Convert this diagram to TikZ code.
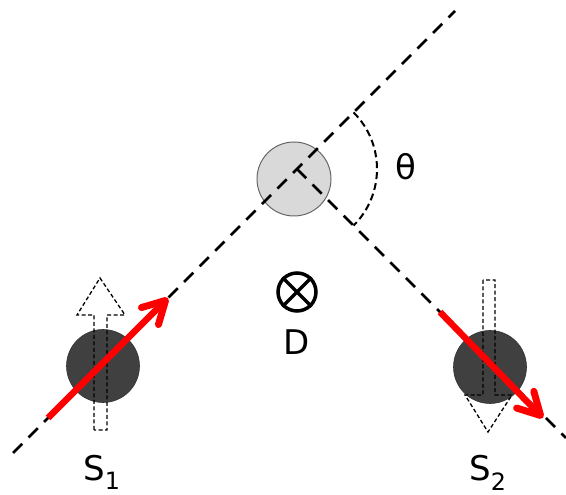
\documentclass[tikz,border=0pt]{standalone}
\usepackage{fontspec}
\setmainfont{DejaVu Sans}
\usetikzlibrary{arrows.meta,calc}
\begin{document}
\begin{tikzpicture}[x=1pt,y=1pt,
  axisline/.style={line width=2.5pt,dash pattern=on 13pt off 9pt},
  anglearc/.style={line width=2pt,dash pattern=on 7pt off 4pt},
  spinball/.style={circle,draw=black!80,line width=0.6pt,fill=black!75,minimum size=73pt,inner sep=0pt},
  centerball/.style={circle,draw=black!60,line width=1pt,fill=black!15,minimum size=74pt,inner sep=0pt},
  hollowarrow/.style={line width=1.3pt,dash pattern=on 4pt off 2.5pt},
  redarrow/.style={red,line width=6.5pt,-{Straight Barb[length=22pt,width=24pt,line width=7pt,round]}},
  lab/.style={font=\fontsize{34}{40}\selectfont,inner sep=0pt}
]
\useasboundingbox (0,0) rectangle (566,495);
% coordinates
\coordinate (V) at (297,326);
\coordinate (L1a) at (13,42);
\coordinate (L1b) at (455,484);
\coordinate (L2) at (566,57);
% centre ball
\node[centerball] (C0) at (294,316) {};
% dashed lines
\draw[axisline] (L1a) -- (L1b);
\draw[axisline] (V) -- (L2);
% angle arc
\draw[anglearc] ($(V)+(56.57,56.57)$) arc[start angle=45,end angle=-45,radius=80];
\node[lab] (theta) at (406,328) {θ};
% detector
\node[circle,draw=black,line width=3.5pt,minimum size=38pt,inner sep=0pt] (Dsym) at (297,203) {};
\draw[line width=3.5pt] (Dsym.45) -- (Dsym.225) (Dsym.135) -- (Dsym.315);
\node[lab] (D) at (297,153) {D};
% S1
\node[spinball] (S1) at (103,129) {};
\draw[hollowarrow] (94,65) -- (94,180) -- (77,180) -- (100,217) -- (125,180) -- (107,180) -- (107,65) -- cycle;
\coordinate (R1a) at (48,77);
\coordinate (R1b) at (168,197);
\draw[redarrow] (R1a) -- (R1b);
\node[lab,anchor=base] (S1lab) at (102,14) {S\textsubscript{1}};
% S2
\node[spinball] (S2) at (490,128) {};
\draw[hollowarrow] (483,215) -- (483,100) -- (465,100) -- (488,63) -- (512,100) -- (495,100) -- (495,215) -- cycle;
\coordinate (R2a) at (440,183);
\coordinate (R2b) at (543,77);
\draw[redarrow] (R2a) -- (R2b);
\node[lab,anchor=base] (S2lab) at (488,14) {S\textsubscript{2}};
\end{tikzpicture}
\end{document}
